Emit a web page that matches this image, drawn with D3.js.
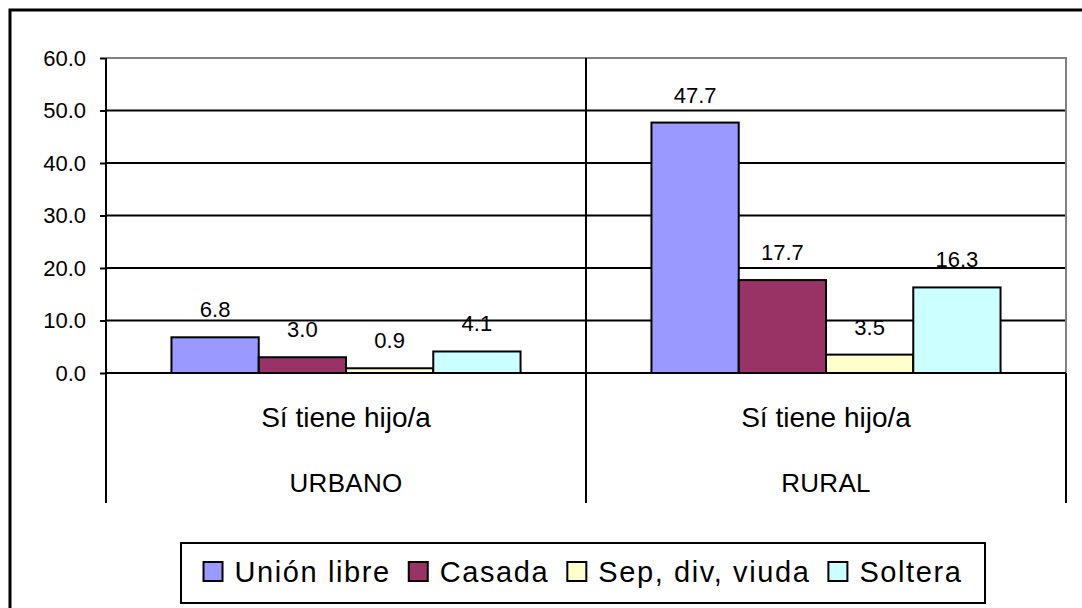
<!DOCTYPE html>
<html>
<head>
<meta charset="utf-8">
<script src="https://cdn.jsdelivr.net/npm/d3@7"></script>
<style>
  body { margin: 0; background: #fff; }
  text { font-family: "Liberation Sans", Arial, sans-serif; fill: #000; }
</style>
</head>
<body>
<div id="chart"></div>
<script>
// data
const categories = ["URBANO", "RURAL"];
const subLabel = "Sí tiene hijo/a";
const series = ["Unión libre", "Casada", "Sep, div, viuda", "Soltera"];
const unionLibre = [6.8, 47.7];
const casada = [3.0, 17.7];
const sepDivViuda = [0.9, 3.5];
const soltera = [4.1, 16.3];
const yTicks = [0, 10, 20, 30, 40, 50, 60];
const colors = ["#9999FF", "#993366", "#FFFFCC", "#CCFFFF"];

const values = [unionLibre, casada, sepDivViuda, soltera];
const data = categories.map((c, i) => ({
  cat: c,
  bars: series.map((s, j) => ({ name: s, value: values[j][i], color: colors[j] }))
}));

const width = 1082, height = 608;
const margin = { top: 58, right: 16, bottom: 235, left: 106 };
const catBottom = 503;

const svg = d3.select("#chart").append("svg")
  .attr("width", width)
  .attr("height", height);

// outer frame (runs off the right and bottom edge like the original)
svg.append("rect")
  .attr("x", 10).attr("y", 10)
  .attr("width", 1200).attr("height", 700)
  .attr("fill", "none").attr("stroke", "#000").attr("stroke-width", 3);

x0 = d3.scaleBand()
  .domain(categories)
  .range([margin.left, width - margin.right]);

x1 = d3.scaleBand()
  .domain(series)
  .range([0, x0.bandwidth()])
  .paddingInner(0)
  .paddingOuter(0.75);

y = d3.scaleLinear()
  .domain([0, 60])
  .range([height - margin.bottom, margin.top]);

// gridlines
svg.append("g")
  .selectAll("line")
  .data(yTicks.slice(0, -1))
  .enter().append("line")
  .attr("x1", margin.left).attr("x2", width - margin.right)
  .attr("y1", d => y(d)).attr("y2", d => y(d))
  .attr("stroke", "#000").attr("stroke-width", 2);

// gray plot border top/right
svg.append("path")
  .attr("d", `M${margin.left},${y(60)}H${width - margin.right}V${y(0)}`)
  .attr("fill", "none").attr("stroke", "#808080").attr("stroke-width", 2);

// category separators
const seps = categories.map(c => x0(c)).concat([x0.range()[1]]);
svg.append("g")
  .selectAll("line")
  .data(seps)
  .enter().append("line")
  .attr("x1", d => d).attr("x2", d => d)
  .attr("y1", (d, i) => (i === seps.length - 1 ? y(0) : y(60)))
  .attr("y2", catBottom)
  .attr("stroke", "#000").attr("stroke-width", 2);

// bars
const groups = svg.append("g")
  .selectAll("g")
  .data(data)
  .enter().append("g")
  .attr("transform", d => `translate(${x0(d.cat)},0)`);

groups.selectAll("rect")
  .data(d => d.bars)
  .enter().append("rect")
  .attr("x", d => x1(d.name))
  .attr("y", d => y(d.value))
  .attr("width", x1.bandwidth())
  .attr("height", d => y(0) - y(d.value))
  .attr("fill", d => d.color)
  .attr("stroke", "#000").attr("stroke-width", 2);

groups.selectAll("text")
  .data(d => d.bars)
  .enter().append("text")
  .attr("x", d => x1(d.name) + x1.bandwidth() / 2)
  .attr("y", d => y(d.value) - 20)
  .attr("text-anchor", "middle")
  .style("font-size", "22px")
  .text(d => d.value.toFixed(1));

// x axis line at zero
svg.append("line")
  .attr("x1", margin.left).attr("x2", width - margin.right)
  .attr("y1", y(0)).attr("y2", y(0))
  .attr("stroke", "#000").attr("stroke-width", 2);

// y axis
yAxis = g => g
  .attr("transform", `translate(${margin.left},0)`)
  .call(d3.axisLeft(y).tickValues(yTicks).tickSize(6).tickPadding(14).tickFormat(d3.format(".1f")))
  .call(g => g.select(".domain").remove())
  .call(g => g.selectAll(".tick line").attr("stroke", "#000").attr("stroke-width", 2))
  .call(g => g.selectAll(".tick text")
    .style("font-family", "'Liberation Sans', Arial, sans-serif")
    .style("font-size", "22px").attr("fill", "#000"));

svg.append("g").call(yAxis);

svg.append("line")
  .attr("x1", margin.left).attr("x2", margin.left)
  .attr("y1", y(60)).attr("y2", catBottom)
  .attr("stroke", "#000").attr("stroke-width", 2);

// category labels (two levels)
const catLabels = svg.append("g")
  .selectAll("g")
  .data(categories)
  .enter().append("g")
  .attr("transform", d => `translate(${x0(d) + x0.bandwidth() / 2},0)`);

catLabels.append("text")
  .attr("y", 427)
  .attr("text-anchor", "middle")
  .style("font-size", "28px")
  .text(subLabel);

catLabels.append("text")
  .attr("y", 492)
  .attr("text-anchor", "middle")
  .style("font-size", "26px")
  .style("letter-spacing", "0.3px")
  .text(d => d);

// legend
const legendBox = { x: 181, y: 543, w: 804, h: 60 };
svg.append("rect")
  .attr("x", legendBox.x).attr("y", legendBox.y)
  .attr("width", legendBox.w).attr("height", legendBox.h)
  .attr("fill", "#fff").attr("stroke", "#000").attr("stroke-width", 2);

const legend = svg.append("g");
const items = legend.selectAll("g")
  .data(series)
  .enter().append("g");

items.append("rect")
  .attr("width", 19).attr("height", 19)
  .attr("y", 562)
  .attr("fill", (d, i) => colors[i])
  .attr("stroke", "#000").attr("stroke-width", 2);

items.append("text")
  .attr("x", 31)
  .attr("y", 582)
  .style("font-size", "29px")
  .style("letter-spacing", "1.6px")
  .text(d => d);

// lay items out one after the other, centred in the box
let offsets = [], cur = 0;
items.each(function() {
  const w = d3.select(this).select("text").node().getComputedTextLength();
  offsets.push(cur);
  cur += 31 + w + 18;
});
const total = cur - 18;
const start = legendBox.x + (legendBox.w - total) / 2;
items.attr("transform", (d, i) => `translate(${start + offsets[i]},0)`);
</script>
</body>
</html>
